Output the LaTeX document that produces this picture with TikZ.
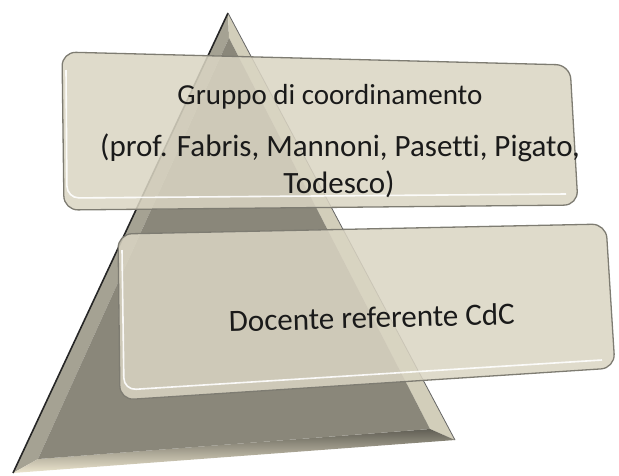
\documentclass[tikz,border=0pt]{standalone}
\usepackage{fontspec}
\setmainfont[Ligatures=NoCommon]{Carlito}
\definecolor{boxfill}{HTML}{DAD5C3}
\definecolor{boxedge}{HTML}{7E7C72}
\definecolor{trimain}{HTML}{8A877A}
\definecolor{trileft}{HTML}{A5A293}
\definecolor{triright}{HTML}{D2CEBA}
\definecolor{tribottom}{HTML}{615F55}
\definecolor{tricream}{HTML}{EDE6CF}
\definecolor{txt}{HTML}{1A1A1A}
\tikzset{
  boxshape/.style={fill=boxfill, fill opacity=0.86, draw=boxedge, line width=1.3pt, rounded corners=14pt},
  boxhl/.style={draw=white, line width=1.6pt, rounded corners=12pt, opacity=0.9},
  label/.style={font=\fontsize{31}{36}\selectfont, text=txt, inner sep=0pt, anchor=base}
}
\begin{document}
\begin{tikzpicture}[x=1pt,y=-1pt]
\useasboundingbox (0,0) rectangle (619,475);
% pyramid outer and bevel faces
\coordinate (A) at (228,13);
\coordinate (B) at (13,473);
\coordinate (C) at (455,440);
\coordinate (Ai) at (229,38);
\coordinate (Bi) at (38,459);
\coordinate (Ci) at (430,429);
\fill[trileft] (A) -- (B) -- (Bi) -- (Ai) -- cycle;
\fill[triright] (C) -- (A) -- (Ai) -- (Ci) -- cycle;
\shade[bottom color=tricream, top color=tribottom] (B) -- (C) -- (Ci) -- (Bi) -- cycle;
\fill[trimain] (Ai) -- (Bi) -- (Ci) -- cycle;
\draw[line width=1.6pt, draw=black!85] (B) -- (A);
\draw[line width=0.8pt, draw=black!60] (A) -- (C);
% top box
\draw[boxshape] (62,52) -- (570,65) -- (578,205) -- (64,210) -- cycle;
\draw[boxhl] (66,70) -- (67,198) -- (566,194);
% bottom box
\draw[boxshape] (118,234) -- (606,224) -- (615,368) -- (120,400) -- cycle;
\draw[boxhl] (122,250) -- (124,390) -- (602,360);
% texts
\node[label, font=\fontsize{29}{34}\selectfont] (t1) at (330,104) {Gruppo di coordinamento};
\node[label] (t2) at (340,156) {(prof. Fabris, Mannoni, Pasetti, Pigato,};
\node[label] (t3) at (339,193) {Todesco)};
\node[label, rotate=1.5] (t4) at (372,328) {Docente referente CdC};
\end{tikzpicture}
\end{document}
